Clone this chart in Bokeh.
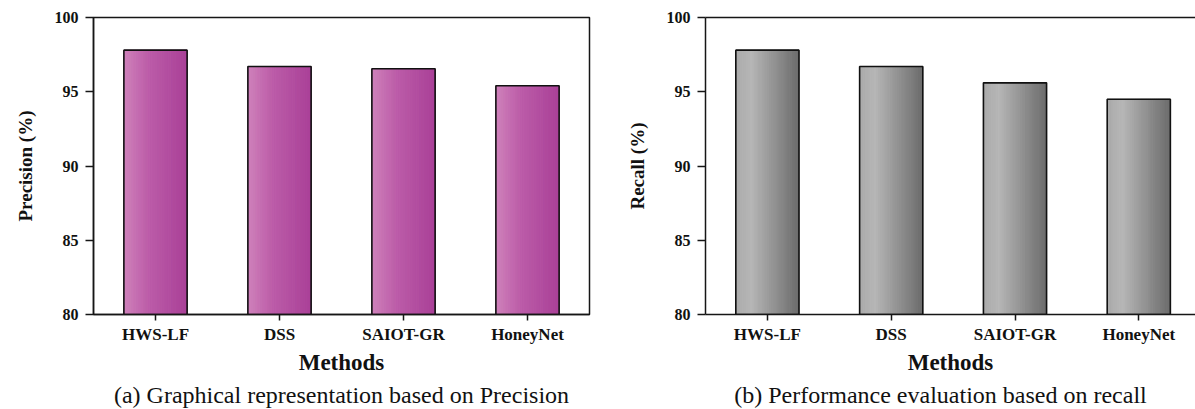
from bokeh.plotting import figure
from bokeh.layouts import row, column
from bokeh.models import FixedTicker, LinearAxis
from bokeh.core.properties import value
from bokeh.embed import file_html
from bokeh.resources import INLINE

# ---------------- data ----------------
methods = ["HWS-LF", "DSS", "SAIOT-GR", "HoneyNet"]
precision = [97.8, 96.7, 96.55, 95.4]
recall = [97.8, 96.7, 95.6, 94.5]
y_ticks = [80, 85, 90, 95, 100]
captions = ["(a) Graphical representation based on Precision",
            "(b) Performance evaluation based on recall"]

FONT = "Liberation Serif"
Y0, Y1 = 80, 100
TOP_H = 380
INK = "#161616"


def lerp_color(stops, t):
    for (t0, c0), (t1, c1) in zip(stops[:-1], stops[1:]):
        if t <= t1:
            u = (t - t0) / (t1 - t0) if t1 > t0 else 0
            c = [round(a + (b - a) * u) for a, b in zip(c0, c1)]
            return "#%02x%02x%02x" % tuple(c)
    return "#%02x%02x%02x" % tuple(stops[-1][1])


def make_panel(values, ylabel, stops, width, border_left, border_right, x_end, boxed):
    p = figure(width=width, height=TOP_H, output_backend="svg", toolbar_location=None,
               title=None, x_range=(0, x_end), y_range=(Y0, Y1),
               min_border_left=border_left, min_border_right=border_right,
               min_border_top=17, min_border_bottom=TOP_H - 17 - 297)
    p.background_fill_color = "white"
    p.border_fill_color = "white"
    p.xgrid.visible = False
    p.ygrid.visible = False
    if boxed:
        p.outline_line_color = INK
        p.outline_line_width = 1.5
        p.outline_line_alpha = 1.0
    else:
        p.outline_line_color = None
        top = LinearAxis(ticker=FixedTicker(ticks=[]), axis_line_color=INK,
                         axis_line_width=1.5, major_tick_line_color=None,
                         minor_tick_line_color=None, major_label_text_alpha=0)
        p.add_layout(top, "above")

    xs = [i + 0.5 for i in range(len(methods))]
    half = 0.255
    n = 30
    L, R, T, B, C = [], [], [], [], []
    for x, v in zip(xs, values):
        for k in range(n):
            L.append(x - half + 2 * half * k / n)
            R.append(x - half + 2 * half * (k + 1) / n)
            T.append(v)
            B.append(Y0)
            C.append(lerp_color(stops, (k + 0.5) / n))
    p.quad(left=L, right=R, top=T, bottom=B, fill_color=C, line_color=C, line_width=1)
    p.vbar(x=xs, top=values, bottom=Y0, width=2 * half, fill_color=None,
           line_color="#111111", line_width=1.6)

    # x axis
    xa = p.below[0]
    xa.ticker = FixedTicker(ticks=xs)
    xa.major_label_overrides = {x: m for x, m in zip(xs, methods)}
    xa.minor_tick_line_color = None
    xa.major_tick_in = 0
    xa.major_tick_out = 6
    xa.major_tick_line_width = 1.5
    xa.major_tick_line_color = INK
    xa.axis_line_width = 1.5
    xa.axis_line_color = INK
    xa.major_label_text_font = FONT
    xa.major_label_text_font_style = "bold"
    xa.major_label_text_font_size = "17px"
    xa.major_label_text_color = "#111111"
    xa.major_label_standoff = 4
    xa.axis_label = "Methods"
    xa.axis_label_text_font = FONT
    xa.axis_label_text_font_style = "bold"
    xa.axis_label_text_font_size = "23px"
    xa.axis_label_text_color = "#111111"
    xa.axis_label_standoff = 3

    # y axis
    ya = p.left[0]
    ya.ticker = FixedTicker(ticks=y_ticks)
    ya.minor_tick_line_color = None
    ya.major_tick_in = 0
    ya.major_tick_out = 8
    ya.major_tick_line_width = 1.5
    ya.major_tick_line_color = INK
    ya.axis_line_width = 1.5
    ya.axis_line_color = INK
    ya.major_label_text_font = FONT
    ya.major_label_text_font_style = "bold"
    ya.major_label_text_font_size = "16px"
    ya.major_label_text_color = "#111111"
    ya.major_label_standoff = 7
    ya.axis_label = ylabel
    ya.axis_label_text_font = FONT
    ya.axis_label_text_font_style = "bold"
    ya.axis_label_text_font_size = "19px"
    ya.axis_label_text_color = "#111111"
    ya.axis_label_standoff = 16
    return p


pink = [(0.0, (0xcf, 0x82, 0xbb)), (0.4, (0xbc, 0x5c, 0xa8)), (1.0, (0xa9, 0x40, 0x98))]
gray = [(0.0, (0xaa, 0xaa, 0xaa)), (0.25, (0xb6, 0xb6, 0xb6)), (1.0, (0x6c, 0x6c, 0x6c))]

p1 = make_panel(precision, "Precision (%)", pink,
                width=600, border_left=93, border_right=11, x_end=4.0, boxed=True)
p2 = make_panel(recall, "Recall (%)", gray,
                width=595, border_left=105, border_right=0, x_end=490 / 123.8, boxed=False)

# caption strip below both panels
cap_h = 409 - TOP_H
p3 = figure(width=1195, height=cap_h, output_backend="svg", toolbar_location=None,
            title=None, x_range=(0, 1195), y_range=(0, cap_h),
            x_axis_location=None, y_axis_location=None,
            min_border_left=0, min_border_right=0, min_border_top=0, min_border_bottom=0)
p3.xgrid.visible = False
p3.ygrid.visible = False
p3.outline_line_color = None
p3.background_fill_color = "white"
p3.border_fill_color = "white"
p3.text(x=[341, 940], y=[cap_h / 2, cap_h / 2], text=captions,
        text_font=value(FONT), text_font_size="24px", text_align="center",
        text_baseline="middle", text_color="#111111")

layout = column(row(p1, p2), p3)
open("out.html", "w").write(file_html(layout, INLINE))
